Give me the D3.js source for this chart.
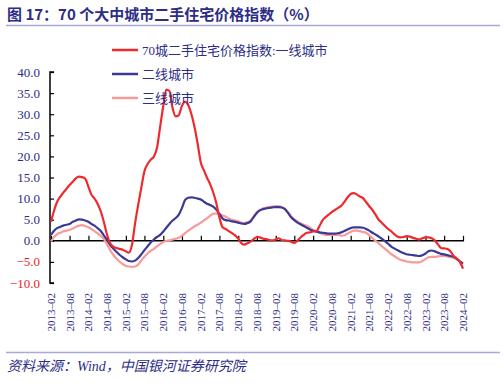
<!DOCTYPE html>
<html>
<head>
<meta charset="utf-8">
<script src="https://cdn.jsdelivr.net/npm/d3@7"></script>
<style>
  html, body { margin: 0; padding: 0; background: #fff; }
  svg { display: block; }
</style>
</head>
<body>
<div id="chart"></div>
<script>
// ── Data (monthly, 2013-02 .. 2024-02) ─────────────────────────
const START_MONTH = "2013-02";

const tier1 = [
  4.5, 7.0, 9.2, 10.4, 11.4, 12.3, 13.2, 14.0, 14.8, 15.2, 15.1, 14.7,
  12.8, 11.0, 10.0, 8.8, 7.0, 4.5, 1.5, -0.6, -1.4, -1.7, -1.9, -2.1,
  -2.5, -2.8, -1.0, 4.0, 8.5, 12.5, 16.5, 18.2, 19.2, 20.0, 22.0, 27.0,
  32.0, 35.8, 35.5, 31.5, 29.5, 29.8, 32.0, 33.0, 32.2, 30.0, 27.0, 23.0,
  18.5, 16.8, 15.0, 13.5, 11.5, 9.0, 5.5, 3.2, 2.8, 2.3, 1.8, 1.3,
  0.5, -0.5, -0.9, -0.6, -0.2, 0.4, 0.9, 0.8, 0.5, 0.4, 0.2, 0.1,
  0.3, 0.6, 0.2, 0.1, 0.0, -0.2, -0.5, 0.0, 0.8, 1.4, 1.9, 2.0,
  2.2, 2.2, 3.4, 4.8, 5.6, 6.2, 6.8, 7.3, 7.8, 8.3, 9.2, 10.3,
  11.1, 11.3, 11.0, 10.5, 10.1, 9.2, 8.2, 7.3, 6.2, 5.0, 4.3, 3.5,
  2.8, 2.3, 1.6, 1.0, 0.8, 0.9, 1.1, 1.0, 0.7, 0.5, 0.3, 0.6,
  0.8, 0.8, 0.6, 0.1, -0.8, -1.7, -1.8, -1.9, -2.5, -3.6, -4.2, -5.0,
  -6.6
];

const tier2 = [
  1.4, 2.3, 3.0, 3.3, 3.6, 3.8, 4.0, 4.5, 4.8, 5.1, 5.0, 4.8,
  4.5, 4.0, 3.6, 3.0, 2.3, 1.3, 0.2, -1.0, -1.8, -2.6, -3.3, -3.9,
  -4.4, -4.8, -4.9, -4.7, -4.1, -3.2, -2.2, -1.3, -0.4, 0.3, 0.9, 1.4,
  2.2, 3.1, 4.0, 4.8, 5.4, 6.2, 7.8, 9.7, 10.2, 10.3, 10.2, 10.0,
  9.8, 9.3, 8.8, 8.5, 8.1, 7.4, 6.4, 5.3, 4.9, 4.8, 4.6, 4.5,
  4.3, 4.1, 4.0, 4.2, 4.6, 5.6, 6.6, 7.2, 7.5, 7.7, 7.8, 7.9,
  8.0, 8.0, 7.9, 7.5, 6.6, 5.6, 4.9, 4.3, 3.9, 3.5, 3.1, 2.7,
  2.4, 2.2, 2.0, 1.9, 1.8, 1.7, 1.7, 1.7, 1.8, 2.0, 2.3, 2.7,
  3.0, 3.2, 3.2, 3.2, 3.1, 2.8, 2.4, 1.9, 1.5, 1.0, 0.5, -0.1,
  -0.7, -1.3, -1.8, -2.2, -2.6, -2.9, -3.2, -3.3, -3.4, -3.5, -3.6, -3.4,
  -3.0, -2.5, -2.3, -2.5, -2.8, -3.1, -3.2, -3.4, -3.6, -3.8, -4.3, -4.9,
  -5.4
];

const tier3 = [
  -0.2, 0.8, 1.6, 1.9, 2.2, 2.4, 2.6, 2.9, 3.3, 3.6, 3.7, 3.5,
  3.2, 2.8, 2.3, 1.8, 1.2, 0.4, -0.8, -2.2, -3.3, -4.2, -4.9, -5.5,
  -5.9, -6.1, -6.2, -6.1, -5.6, -4.7, -3.8, -3.0, -2.4, -1.9, -1.3, -0.8,
  -0.3, 0.0, 0.1, 0.3, 0.5, 0.7, 1.2, 1.8, 2.4, 2.9, 3.4, 3.8,
  4.3, 4.8, 5.3, 5.9, 6.4, 6.5, 6.3, 6.0, 5.7, 5.3, 5.0, 4.8,
  4.6, 4.3, 4.2, 4.4, 4.8, 5.8, 6.8, 7.4, 7.7, 7.9, 8.0, 8.1,
  8.2, 8.2, 8.0, 7.6, 6.8, 5.8, 5.1, 4.6, 4.1, 3.8, 3.5, 3.1,
  2.6, 2.2, 2.0, 1.6, 1.4, 1.4, 1.4, 1.4, 1.4, 1.2, 1.3, 1.7,
  2.1, 2.4, 2.4, 2.3, 2.1, 1.9, 1.3, 0.6, 0.0, -0.6, -1.3, -1.9,
  -2.5, -3.1, -3.6, -4.1, -4.5, -4.7, -4.9, -5.0, -5.1, -5.1, -5.1, -4.8,
  -4.3, -3.9, -3.8, -3.8, -3.7, -3.6, -3.6, -3.7, -3.9, -4.0, -4.3, -4.8,
  -5.3
];

const xTickLabels = [
  "2013-02", "2013-08", "2014-02", "2014-08", "2015-02", "2015-08",
  "2016-02", "2016-08", "2017-02", "2017-08", "2018-02", "2018-08",
  "2019-02", "2019-08", "2020-02", "2020-08", "2021-02", "2021-08",
  "2022-02", "2022-08", "2023-02", "2023-08", "2024-02"
];
const yTicks = [40, 35, 30, 25, 20, 15, 10, 5, 0, -5, -10];

const seriesNames = ["70城二手住宅价格指数:一线城市", "二线城市", "三线城市"];
const seriesColors = ["#ee2a2e", "#3a3996", "#f79a9a"];

const titleText = "图 17：70 个大中城市二手住宅价格指数（%）";
const sourceText = "资料来源：Wind，中国银河证券研究院";

// ── Setup ──────────────────────────────────────────────────────
const W = 504, H = 390;
const NAVY = "#2d2d86";
const SERIF = "'Liberation Serif', 'Noto Sans CJK SC', serif";
const CJK = "'Noto Sans CJK SC', sans-serif";

const svg = d3.select("#chart").append("svg")
  .attr("width", W)
  .attr("height", H);

const parseMonth = d3.timeParse("%Y-%m");
const start = parseMonth(START_MONTH);
const dates = tier1.map((_, i) => d3.timeMonth.offset(start, i));

const x = d3.scaleTime()
  .domain([start, parseMonth("2024-02")])
  .range([51, 463]);

const y = d3.scaleLinear()
  .domain([-10, 40])
  .range([283, 72]);

// ── Title + rules ──────────────────────────────────────────────
svg.append("text")
  .attr("x", 7).attr("y", 20)
  .style("font-family", CJK)
  .style("font-size", "15px")
  .style("font-weight", "bold")
  .style("fill", NAVY)
  .text(titleText);

svg.append("line")
  .attr("x1", 6).attr("x2", 500)
  .attr("y1", 25.5).attr("y2", 25.5)
  .style("stroke", "#a9a9d9").style("stroke-width", 1.5);

svg.append("line")
  .attr("x1", 6).attr("x2", 500)
  .attr("y1", 352.5).attr("y2", 352.5)
  .style("stroke", "#a9a9d9").style("stroke-width", 1.5);

svg.append("text")
  .attr("x", 7).attr("y", 371)
  .style("font-family", SERIF)
  .style("font-size", "14px")
  .style("font-style", "italic")
  .style("fill", NAVY)
  .text(sourceText);

// ── Axes ───────────────────────────────────────────────────────
const yAxis = svg.append("g")
  .attr("transform", "translate(50,0)")
  .call(d3.axisRight(y).tickValues(yTicks).tickSize(4).tickFormat(""));
yAxis.select(".domain").attr("d", `M4,${y(40)}H0V${y(-10)}H4`).style("stroke-width", 1.5);
yAxis.selectAll(".tick line").style("stroke-width", 1.2);

svg.append("g").selectAll("text")
  .data(yTicks)
  .join("text")
  .attr("x", 40)
  .attr("y", d => y(d) + 4.5)
  .attr("text-anchor", "end")
  .style("font-family", SERIF)
  .style("font-size", "13px")
  .style("fill", d => d < 0 ? "#e8262a" : NAVY)
  .text(d => d3.format(".1f")(d).replace("-", "−"));

const xTickDates = xTickLabels.map(parseMonth);
const xAxis = svg.append("g")
  .attr("transform", `translate(0,${y(0)})`)
  .call(d3.axisTop(x).tickValues(xTickDates).tickSize(5).tickFormat(""));
xAxis.select(".domain").attr("d", `M50,0H${x(xTickDates[xTickDates.length - 1]) + 1}`).style("stroke-width", 1.5);
xAxis.selectAll(".tick line").style("stroke-width", 1.2);

svg.append("g").selectAll("text")
  .data(xTickLabels)
  .join("text")
  .attr("transform", d => `translate(${x(parseMonth(d)) + 4},293) rotate(-90)`)
  .attr("text-anchor", "end")
  .style("font-family", SERIF)
  .style("font-size", "11px")
  .style("fill", NAVY)
  .text(d => d.replace("-", "–"));

// ── Lines ──────────────────────────────────────────────────────
const line = d3.line()
  .x((d, i) => x(dates[i]))
  .y(d => y(d))
  .curve(d3.curveMonotoneX);

[tier3, tier2, tier1].forEach((s, k) => {
  svg.append("path")
    .datum(s)
    .attr("d", line)
    .style("fill", "none")
    .style("stroke", seriesColors[2 - k])
    .style("stroke-width", 2.2)
    .style("stroke-linejoin", "round");
});

// ── Legend ─────────────────────────────────────────────────────
const legend = svg.append("g");
seriesNames.forEach((name, i) => {
  const ly = 50 + i * 24;
  legend.append("line")
    .attr("x1", 112).attr("x2", 138)
    .attr("y1", ly).attr("y2", ly)
    .style("stroke", seriesColors[i])
    .style("stroke-width", 2.5);
  legend.append("text")
    .attr("x", 142).attr("y", ly + 4.5)
    .style("font-family", SERIF)
    .style("font-size", "13px")
    .style("fill", NAVY)
    .text(name);
});
</script>
</body>
</html>
